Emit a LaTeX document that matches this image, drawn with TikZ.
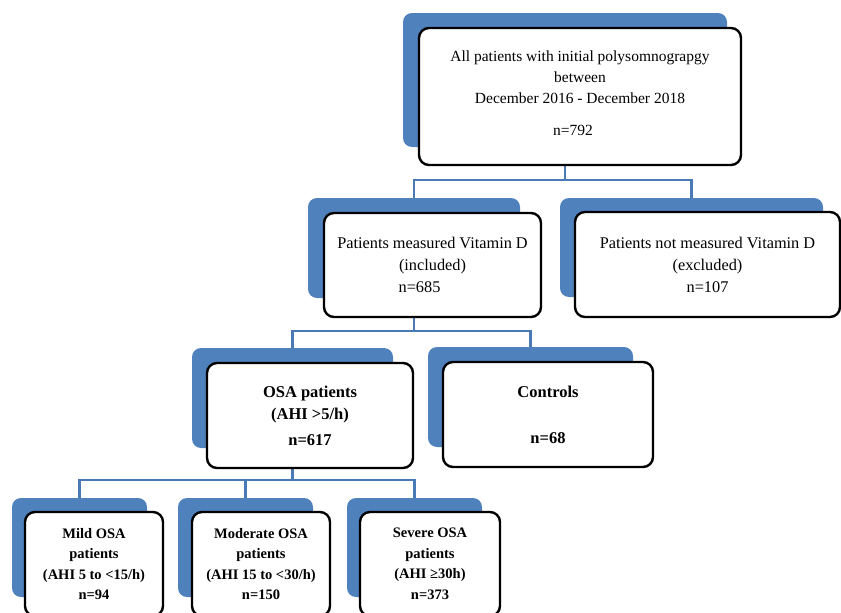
\documentclass[tikz,border=0pt]{standalone}
\usepackage{fontspec}
\setmainfont{Liberation Serif}
\usetikzlibrary{backgrounds}
\definecolor{shadowblue}{RGB}{79,129,189}
\definecolor{linkblue}{RGB}{74,122,182}
\begin{document}
\begin{tikzpicture}[x=1pt,y=-1pt,
  backbox/.style={fill=shadowblue,rounded corners=9pt,inner sep=0pt},
  frontbox/.style={draw=black,line width=2.4pt,fill=white,rounded corners=10pt,
    align=center,inner sep=0pt,font=\fontsize{15.5}{21}\selectfont},
  midbox/.style={frontbox,font=\fontsize{16.3}{22}\selectfont},
  boldbox/.style={frontbox,font=\fontsize{16.5}{22}\selectfont\bfseries},
  smallbold/.style={frontbox,font=\fontsize{14.5}{20.5}\selectfont\bfseries},
  link/.style={draw=linkblue,line width=2.2pt}]
\useasboundingbox (0,0) rectangle (841,613);
% level 1
\node[backbox,minimum width=324pt,minimum height=134pt] (b1) at (565,80) {};
\node[frontbox,minimum width=322pt,minimum height=137pt,text depth=7pt] (w1) at (580,96.5)
  {All patients with initial polysomnograpgy\\between\\December 2016 - December 2018\\[11pt]n=792\hspace*{14pt}};
% level 2
\node[backbox,minimum width=212pt,minimum height=100pt] (b2) at (414,248) {};
\node[midbox,minimum width=217pt,minimum height=104pt] (w2) at (432.5,265)
  {Patients measured Vitamin D\\(included)\\n=685\hspace*{26pt}};
\node[backbox,minimum width=263pt,minimum height=99pt] (b3) at (691.5,247.5) {};
\node[midbox,minimum width=265pt,minimum height=105pt] (w3) at (707.5,264.5)
  {Patients not measured Vitamin D\\(excluded)\\n=107};
% level 3
\node[backbox,minimum width=201pt,minimum height=100pt] (b4) at (292.5,398) {};
\node[boldbox,minimum width=206pt,minimum height=105pt] (w4) at (310,415.5)
  {OSA patients\\(AHI >5/h)\\[4pt]n=617};
\node[backbox,minimum width=205pt,minimum height=100pt] (b5) at (530.5,397) {};
\node[boldbox,minimum width=210pt,minimum height=105pt] (w5) at (548,414.5)
  {Controls\\[24pt]n=68};
% level 4
\node[backbox,minimum width=135pt,minimum height=99pt] (b6) at (79.5,547.5) {};
\node[smallbold,minimum width=138pt,minimum height=104pt] (w6) at (94,564)
  {Mild OSA\\patients\\(AHI 5 to <15/h)\\n=94};
\node[backbox,minimum width=135pt,minimum height=99pt] (b7) at (245.5,547.5) {};
\node[smallbold,minimum width=138pt,minimum height=104pt] (w7) at (261,564)
  {Moderate OSA\\patients\\(AHI 15 to <30/h)\\n=150};
\node[backbox,minimum width=135pt,minimum height=99pt] (b8) at (414.5,547.5) {};
\node[smallbold,minimum width=140pt,minimum height=104pt] (w8) at (430,564)
  {Severe OSA\\patients\\(AHI ≥30h)\\n=373};
% connectors
\begin{pgfonlayer}{background}
\coordinate (j1) at (565,180);
\coordinate (j2) at (414,331);
\coordinate (j3) at (292.5,480);
\draw[link] (b1.south) -- (j1);
\draw[link] (b2.north) |- (j1) -| (b3.north);
\draw[link] (b2.south) -- (j2);
\draw[link] (b4.north) |- (j2) -| (b5.north);
\draw[link] (b4.south) -- (j3);
\draw[link] (b6.north) |- (j3) -| (b8.north);
\draw[link] (b7.north) -- (b7.north |- j3);
\end{pgfonlayer}
\end{tikzpicture}
\end{document}
